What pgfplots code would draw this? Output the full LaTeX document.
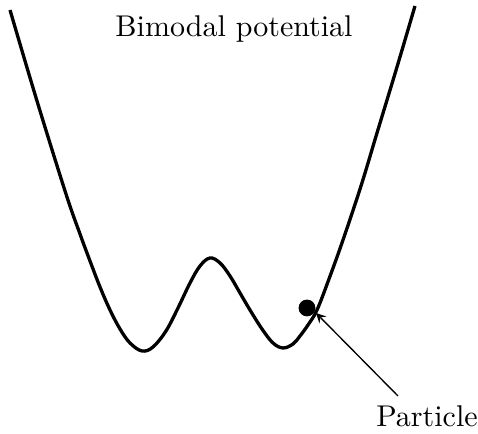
\documentclass[border=0pt]{standalone}
\usepackage{pgfplots}
\pgfplotsset{compat=1.18}
\begin{document}
\begin{tikzpicture}
\begin{axis}[
  x=0.33333pt, y=0.33333pt,
  xmin=0, xmax=478, ymin=0, ymax=434,
  scale only axis, hide axis, clip=false,
]
\addplot[black, line width=1.1pt, smooth, tension=0.6] coordinates {
(10,424) (37,333) (66,240) (80,200) (90,173) (100,147) (110,124) (120,105)
(130,91) (142,83) (153,87) (166,103) (178,126) (190,151) (200,168) (210,176)
(220,171) (230,158) (240,141) (250,124) (262,105) (273,91) (283,86) (293,90)
(300,98) (308,109) (317,124) (329,155) (343,194) (361,248) (377,301)
(397,367) (415,428)
};
\addplot[only marks, mark=*, mark size=2.6pt, black] coordinates {(307,126)};
\draw[-{stealth}, line width=0.45pt] (axis cs:398,38) -- (axis cs:316,121);
\node[anchor=base] at (axis cs:234,397) {Bimodal potential};
\node[anchor=base] at (axis cs:427,7) {Particle};
\end{axis}
\pgfresetboundingbox
\path (current axis.south west) rectangle (current axis.north east);
\end{tikzpicture}
\end{document}
